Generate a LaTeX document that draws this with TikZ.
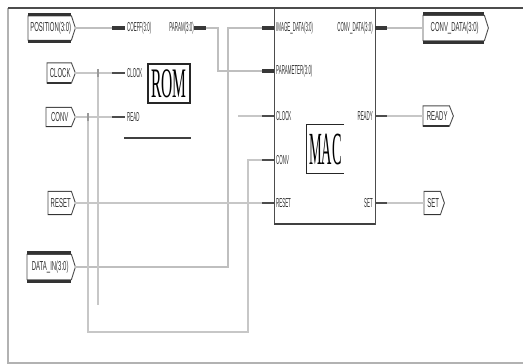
\documentclass[tikz,border=0pt]{standalone}
\usepackage{fontspec}
\setmainfont{Liberation Sans}
\newfontfamily\bigserif{Liberation Serif}
\newcommand\sqp[1]{\scalebox{0.46}[1]{#1}}
\newcommand\sqn[1]{\scalebox{0.34}[1]{#1}}
\newcommand\portoutline[1]{\draw[portedge] (#1.north west) -- (#1.north east) -- ([xshift=4pt]#1.east) -- (#1.south east) -- (#1.south west) -- cycle;}
\newcommand\portbus[1]{\draw[portbar] ([yshift=1.5pt]#1.north west) -- ([yshift=1.5pt]#1.north east) ([yshift=-1.5pt]#1.south west) -- ([yshift=-1.5pt]#1.south east);}
\begin{document}
\begin{tikzpicture}[x=1pt,y=-1pt,
  wire/.style={draw=black!22, line width=1.2pt},
  buswire/.style={draw=black!25, line width=2.6pt},
  stub/.style={draw=black!70, line width=1.6pt},
  busstub/.style={draw=black!78, line width=4.5pt},
  portedge/.style={draw=black!70, line width=0.9pt, fill=white},
  portbar/.style={draw=black!80, line width=3pt},
  port/.style={inner sep=0pt, anchor=west, text=black!80, font=\fontsize{13}{13}\selectfont},
  pinlbl/.style={inner sep=0pt, text=black!80, font=\fontsize{13}{13}\selectfont},
  tick/.style={draw=black!40, line width=1.6pt}
]
\useasboundingbox[fill=white] (0,0) rectangle (523,364);

% frame
\draw[black!30, line width=1.2pt] (8,8) -- (8,363) -- (523,363);
\draw[black!70, line width=1.5pt] (8,8) -- (523,8);

% MAC block outline
\draw[black!70, line width=1pt] (274,8) -- (274,224) -- (375,224) -- (375,8);
\draw[black!75, line width=1.6pt] (274,224) -- (375,224);

% ROM block
\node[draw=black!85, line width=1.2pt, minimum width=42pt, minimum height=39pt, inner sep=0pt] (rom) at (169,83.5)
  {\bigserif\fontsize{42}{42}\selectfont\scalebox{0.37}[1]{ROM}};
\coordinate (romBl) at (124,138);
\coordinate (romBr) at (191,138);
\draw[black!75, line width=1.5pt] (romBl) -- (romBr);

% MAC title
\node[inner sep=0pt, minimum width=37pt, minimum height=48pt] (mac) at (325.5,149)
  {\bigserif\fontsize{46}{46}\selectfont\scalebox{0.31}[1]{MAC}};
\draw[black!85, line width=1.2pt] (mac.north east) -- (mac.north west) -- (mac.south west) -- (mac.south east);

% pin coordinates
\coordinate (romCo) at (112,28);
\coordinate (romClk) at (112,73);
\coordinate (romRd) at (112,117);
\coordinate (romPa) at (206,28);
\coordinate (macIm) at (262,28);
\coordinate (macPa) at (262,71);
\coordinate (macClk) at (262,116);
\coordinate (macCv) at (262,160);
\coordinate (macRs) at (262,203);
\coordinate (macCd) at (387,28);
\coordinate (macRy) at (387,116);
\coordinate (macSt) at (387,203);

% pin stubs
\draw[busstub] (romCo) -- ++(13,0);
\draw[stub] (romClk) -- ++(13,0);
\draw[stub] (romRd) -- ++(13,0);
\draw[busstub] (romPa) -- ++(-12,0);
\draw[busstub] (macIm) -- ++(12,0);
\draw[busstub] (macPa) -- ++(12,0);
\draw[stub] (macClk) -- ++(12,0);
\draw[stub] (macCv) -- ++(12,0);
\draw[stub] (macRs) -- ++(12,0);
\draw[busstub] (macCd) -- ++(-12,0);
\draw[stub] (macRy) -- ++(-12,0);
\draw[stub] (macSt) -- ++(-12,0);

% pin labels
\node[pinlbl, anchor=west] (lCo) at (127,28) {\sqn{COEFF(3:0)}};
\node[pinlbl, anchor=east] (lPa) at (194,28) {\sqn{PARAM(3:0)}};
\node[pinlbl, anchor=west] (lClk) at (127,73) {\sqn{CLOCK}};
\node[pinlbl, anchor=west] (lRd) at (127,117) {\sqn{READ}};
\node[pinlbl, anchor=west] (lIm) at (276,28) {\sqn{IMAGE\_DATA(3:0)}};
\node[pinlbl, anchor=west] (lPm) at (276,71) {\sqn{PARAMETER(3:0)}};
\node[pinlbl, anchor=west] (lMClk) at (276,116) {\sqn{CLOCK}};
\node[pinlbl, anchor=west] (lCv) at (276,160) {\sqn{CONV}};
\node[pinlbl, anchor=west] (lRs) at (276,203) {\sqn{RESET}};
\node[pinlbl, anchor=east] (lCd) at (373,28) {\sqn{CONV\_DATA(3:0)}};
\node[pinlbl, anchor=east] (lRy) at (373,116) {\sqn{READY}};
\node[pinlbl, anchor=east] (lSt) at (373,203) {\sqn{SET}};

% ports (bodies)
\node[port, minimum width=43pt, minimum height=24pt] (pos) at (28,28) {};
\node[port, minimum width=24pt, minimum height=20pt] (clk) at (47,73) {};
\node[port, minimum width=25pt, minimum height=19pt] (cnv) at (46,117) {};
\node[port, minimum width=23pt, minimum height=23pt] (rst) at (48,203) {};
\node[port, minimum width=44pt, minimum height=25pt] (din) at (27,267) {};
\node[port, minimum width=61pt, minimum height=25pt] (cdo) at (423,28) {};
\node[port, minimum width=26pt, minimum height=20pt] (rdy) at (423,116) {};
\node[port, minimum width=16pt, minimum height=23pt] (set) at (424,203) {};
\portoutline{pos}\portoutline{clk}\portoutline{cnv}\portoutline{rst}
\portoutline{din}\portoutline{cdo}\portoutline{rdy}\portoutline{set}
\portbus{pos}\portbus{din}\portbus{cdo}
\draw[portbar, line width=1.5pt] (clk.south west) -- (clk.south east) (cnv.south west) -- (cnv.south east)
  (rst.south west) -- (rst.south east) (rdy.south west) -- (rdy.south east) (set.south west) -- (set.south east);
\node[port, anchor=center] at ([xshift=1pt]pos.center) {\sqp{POSITION(3:0)}};
\node[port, anchor=center] at ([xshift=1pt]clk.center) {\sqp{CLOCK}};
\node[port, anchor=center] at ([xshift=1pt]cnv.center) {\sqp{CONV}};
\node[port, anchor=center] at ([xshift=1pt]rst.center) {\sqp{RESET}};
\node[port, anchor=center] at ([xshift=1pt]din.center) {\sqp{DATA\_IN(3:0)}};
\node[port, anchor=center] at ([xshift=1pt]cdo.center) {\sqp{CONV\_DATA(3:0)}};
\node[port, anchor=center] at ([xshift=1pt]rdy.center) {\sqp{READY}};
\node[port, anchor=center] at ([xshift=1pt]set.center) {\sqp{SET}};

% junction / helper coordinates
\coordinate (jIm) at (228,28);
\coordinate (jClk) at (98,73);
\coordinate (clkEnd) at (98,305);
\coordinate (jCv) at (88,117);
\coordinate (cvLow) at (248,332);
\coordinate (clkStub) at (238,116);

% wires
\draw[buswire] ([xshift=4pt]pos.east) -- (romCo);
\draw[wire] ([xshift=4pt]clk.east) -- (romClk);
\draw[wire] ([xshift=4pt]cnv.east) -- (romRd);
\draw[buswire] (romPa) -- ++(12,0) |- (macPa);
\draw[buswire] ([xshift=4pt]din.east) -| (jIm) -- (macIm);
\draw[wire] (jClk) -- (clkEnd);
\draw[wire] (jCv) |- (cvLow) |- (macCv);
\draw[wire] (clkStub) -- (macClk);
\draw[wire] ([xshift=4pt]rst.east) -- (macRs);
\draw[buswire] (macCd) -- (cdo.west);
\draw[wire] (macRy) -- (rdy.west);
\draw[wire] (macSt) -- (set.west);
\draw[tick] ([yshift=-4pt]jClk) -- ([yshift=4pt]jClk);
\draw[tick] ([yshift=-4pt]jCv) -- ([yshift=4pt]jCv);
\end{tikzpicture}
\end{document}
